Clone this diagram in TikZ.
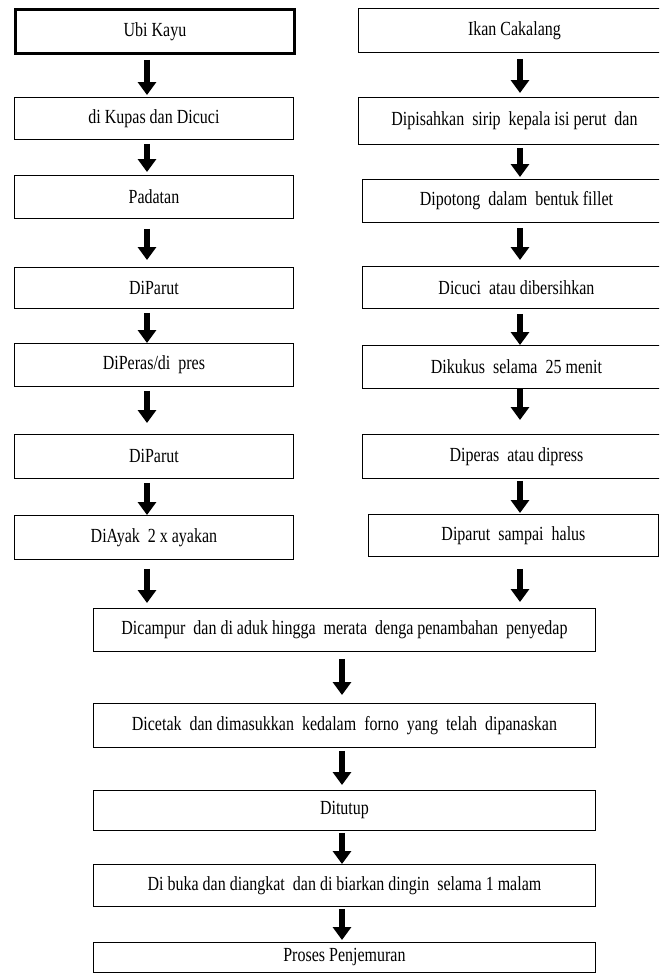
\documentclass[tikz,border=0pt]{standalone}
\usepackage{fontspec}
\setmainfont{Liberation Serif}
\usepackage{graphicx}
\usetikzlibrary{arrows.meta, calc, positioning}
\newcommand{\tall}[1]{\scalebox{1}[1.25]{#1}}
\tikzset
{%
box/.style={draw, rectangle, line width=0.9pt, anchor=north west, inner sep=0pt, minimum height=43pt, font=\fontsize{16}{18}\selectfont},
lbox/.style={box, minimum width=279pt},
rbox/.style={box, minimum width=312pt},
bbox/.style={box, minimum width=502pt},
flow/.style={-{Triangle[width=18pt, length=13pt]}, line width=6pt}
}

\begin{document}
\begin{tikzpicture}[x=1pt, y=-1pt]
	\useasboundingbox (0,0) rectangle (659,974);
	\clip (0,0) rectangle (659,974);

		% LEFT COLUMN
		\node[lbox, line width=3pt, minimum height=44pt] (ubi) at (14,8) {\tall{Ubi Kayu}};
		\node[lbox, minimum height=42pt] (kupas) at (14,97) {\tall{di Kupas dan Dicuci}};
		\node[lbox] (padatan) at (14,175) {\tall{Padatan}};
		\node[lbox, minimum height=41pt] (parut1) at (14,267) {\tall{DiParut}};
		\node[lbox] (peras) at (14,343) {\tall{DiPeras/di~ pres}};
		\node[lbox, minimum height=44pt] (parut2) at (14,434) {\tall{DiParut}};
		\node[lbox, minimum height=44pt] (ayak) at (14,515) {\tall{DiAyak~ 2 x ayakan}};

		% RIGHT COLUMN
		\node[rbox, minimum height=44pt] (ikan) at (358,8) {\tall{Ikan Cakalang}};
		\node[rbox, minimum height=47pt] (sirip) at (358,97) {\tall{Dipisahkan~ sirip~ kepala isi perut~ dan}};
		\node[rbox, minimum width=308pt] (potong) at (362,179) {\tall{Dipotong~ dalam~ bentuk fillet}};
		\node[rbox, minimum width=308pt, minimum height=42pt] (cuci) at (362,266) {\tall{Dicuci~ atau dibersihkan}};
		\node[rbox, minimum width=308pt] (kukus) at (362,345) {\tall{Dikukus~ selama~ 25 menit}};
		\node[rbox, minimum width=308pt, minimum height=44pt] (dipress) at (362,434) {\tall{Diperas~ atau dipress}};
		\node[rbox, minimum width=290pt, minimum height=42pt] (halus) at (368,514) {\tall{Diparut~ sampai~ halus}};

		% BOTTOM ROW
		\node[bbox] (campur) at (93,608) {\tall{Dicampur~ dan di aduk hingga~ merata~ denga penambahan~ penyedap}};
		\node[bbox, minimum height=44pt] (cetak) at (93,703) {\tall{Dicetak~ dan dimasukkan~ kedalam~ forno~ yang~ telah~ dipanaskan}};
		\node[bbox, minimum height=40pt] (tutup) at (93,790) {\tall{Ditutup}};
		\node[bbox, minimum height=42pt] (buka) at (93,864) {\tall{Di buka dan diangkat~ dan di biarkan dingin~ selama 1 malam}};
		\node[bbox, minimum height=30pt] (jemur) at (93,942) {\tall{Proses Penjemuran}};

		\coordinate (lx) at (147,0);
		\coordinate (rx) at (520,0);
		\coordinate (bx) at (342,0);

		\path[flow] (ubi.south -| lx) edge[shorten <=5pt, shorten >=2pt] (kupas.north -| lx)
		(kupas.south -| lx) edge[shorten <=4pt, shorten >=3pt] (padatan.north -| lx)
		(padatan.south -| lx) edge[shorten <=10pt, shorten >=7pt] (parut1.north -| lx)
		(parut1.south -| lx) edge[shorten <=4pt] (peras.north -| lx)
		(peras.south -| lx) edge[shorten <=4pt, shorten >=11pt] (parut2.north -| lx)
		(parut2.south -| lx) edge[shorten <=4pt] (ayak.north -| lx)
		(ayak.south -| lx) edge[shorten <=9pt, shorten >=5pt] (campur.north -| lx);
		\path[flow] (ikan.south -| rx) edge[shorten <=6pt, shorten >=4pt] (sirip.north -| rx)
		(sirip.south -| rx) edge[shorten <=3pt, shorten >=2pt] (potong.north -| rx)
		(potong.south -| rx) edge[shorten <=5pt, shorten >=6pt] (cuci.north -| rx)
		(cuci.south -| rx) edge[shorten <=5pt] (kukus.north -| rx)
		(kukus.south -| rx) edge[shorten >=14pt] (dipress.north -| rx)
		(dipress.south -| rx) edge[shorten <=2pt, shorten >=1pt] (halus.north -| rx)
		(halus.south -| rx) edge[shorten <=12pt, shorten >=6pt] (campur.north -| rx);
		\path[flow] (campur.south -| bx) edge[shorten <=7pt, shorten >=8pt] (cetak.north -| bx)
		(cetak.south -| bx) edge[shorten <=3pt, shorten >=5pt] (tutup.north -| bx)
		(tutup.south -| bx) edge[shorten <=2pt] (buka.north -| bx)
		(buka.south -| bx) edge[shorten <=2pt, shorten >=2pt] (jemur.north -| bx);
	\end{tikzpicture}
\end{document}
